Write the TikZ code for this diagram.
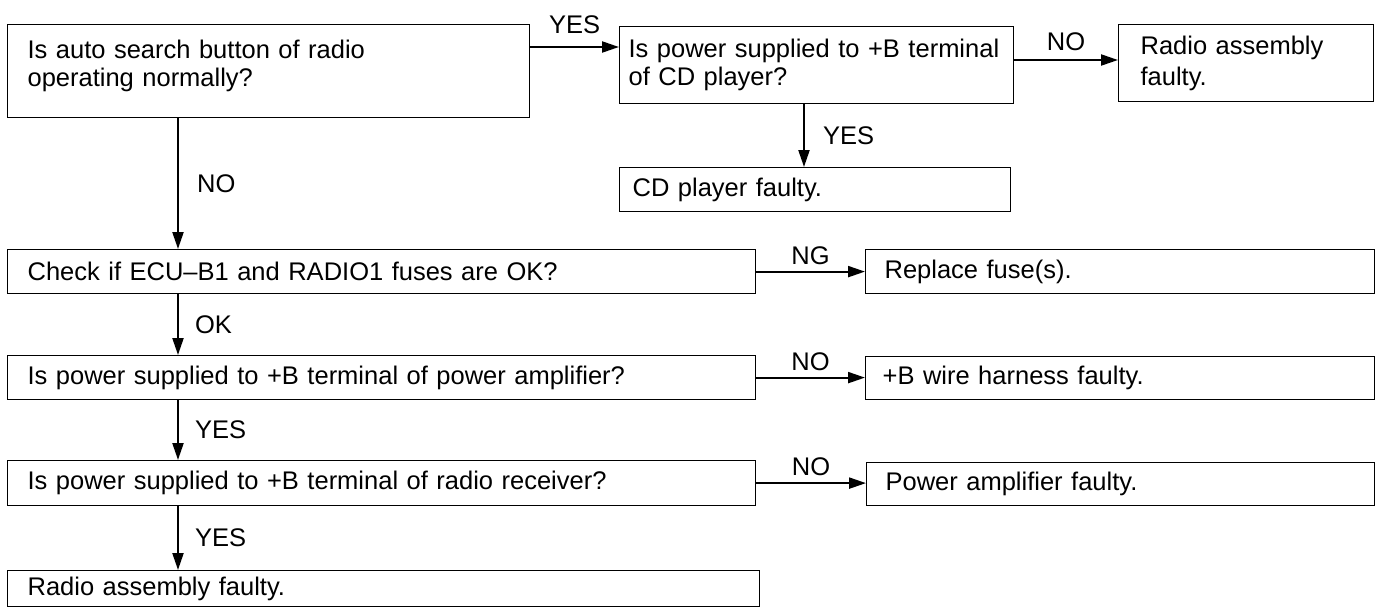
\documentclass[tikz,border=0pt]{standalone}
\usepackage{fontspec}
\setmainfont{Liberation Sans}
\usetikzlibrary{arrows.meta,calc}
\begin{document}
\begin{tikzpicture}[x=1pt,y=1pt,
  bx/.style={draw, line width=1.2pt, anchor=north west, inner ysep=0pt, align=left,
    font=\fontsize{25.5}{28}\selectfont},
  arr/.style={line width=2.2pt, -{Triangle[length=17pt,width=11pt]}},
  lbl/.style={font=\fontsize{25.5}{28}\selectfont, inner sep=0pt}
]
\fill[white] (0,0) rectangle (1377,-608);
\useasboundingbox (0,0) rectangle (1377,-608);

\node[bx, minimum width=522, minimum height=93, inner xsep=20, text width=482] (q1) at (7,-24)
  {\raisebox{5pt}[\height][\depth]{\parbox{482pt}{Is auto search button of radio\\operating normally?}}};
\node[bx, minimum width=394, minimum height=77, inner xsep=9, text width=376] (q2) at (619,-26)
  {Is power supplied to +B terminal\\of CD player?};
\node[bx, minimum width=255, minimum height=77, inner xsep=22, text width=211] (r1) at (1118,-24)
  {Radio assembly\\[3pt]faulty.};
\node[bx, minimum width=391, minimum height=44, inner xsep=13, text width=365] (cd) at (619,-167)
  {CD player faulty.};
\node[bx, minimum width=748, minimum height=44, inner xsep=20, text width=708] (q3) at (7,-249)
  {Check if ECU–B1 and RADIO1 fuses are OK?};
\node[bx, minimum width=509, minimum height=44, inner xsep=19, text width=471] (fu) at (865,-249)
  {Replace fuse(s).};
\node[bx, minimum width=748, minimum height=44, inner xsep=20, text width=708] (q4) at (7,-355)
  {Is power supplied to +B terminal of power amplifier?};
\node[bx, minimum width=509, minimum height=43, inner xsep=17, text width=475] (wh) at (865,-356)
  {+B wire harness faulty.};
\node[bx, minimum width=748, minimum height=45, inner xsep=20, text width=708] (q5) at (7,-460)
  {Is power supplied to +B terminal of radio receiver?};
\node[bx, minimum width=508, minimum height=43, inner xsep=19, text width=470] (pa) at (866,-462)
  {Power amplifier faulty.};
\node[bx, minimum width=752, minimum height=36, inner xsep=20, text width=712] (r2) at (7,-570)
  {Radio assembly faulty.};

\coordinate (ya) at (0,-47);
\coordinate (yb) at (0,-60);
\coordinate (xa) at (178,0);
\coordinate (xb) at (804,0);

\draw[arr] (q1.east |- ya) -- node[lbl, above=12pt]{YES} (q2.west |- ya);
\draw[arr] (q2.east |- yb) -- node[lbl, above=8pt]{NO} (r1.west |- yb);
\draw[arr] (q2.south -| xb) -- node[lbl, right=18pt]{YES} (cd.north -| xb);
\draw[arr] (q1.south -| xa) -- node[lbl, right=18pt]{NO} (q3.north -| xa);
\draw[arr] (q3.east) -- node[lbl, above=6pt]{NG} (fu.west);
\draw[arr] (q3.south -| xa) -- node[lbl, right=16pt]{OK} (q4.north -| xa);
\draw[arr] (q4.east) -- node[lbl, above=6pt]{NO} (wh.west |- q4.east);
\draw[arr] (q4.south -| xa) -- node[lbl, right=16pt]{YES} (q5.north -| xa);
\draw[arr] (q5.east) -- node[lbl, above=6pt]{NO} (pa.west |- q5.east);
\draw[arr] (q5.south -| xa) -- node[lbl, right=16pt]{YES} (r2.north -| xa);
\end{tikzpicture}
\end{document}
